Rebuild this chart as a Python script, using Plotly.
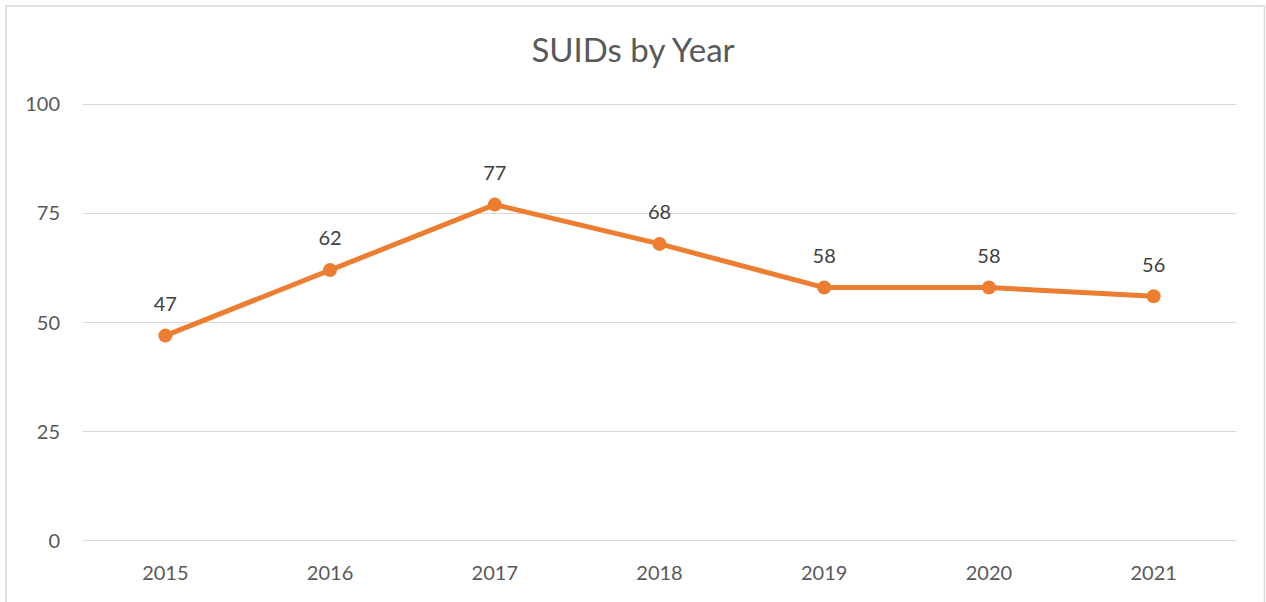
import plotly.graph_objects as go

years = ["2015", "2016", "2017", "2018", "2019", "2020", "2021"]
suids = [47, 62, 77, 68, 58, 58, 56]
y_ticks = [0, 25, 50, 75, 100]

W, H = 1266, 602
L, R, T, B = 83, 30, 102, 59
pw, ph = W - L - R, H - T - B
pad = 0.5  # keep end gridlines visible

fig = go.Figure()
fig.add_trace(go.Scatter(
    x=years, y=suids, mode="lines+markers",
    line=dict(color="#ED7D31", width=5),
    marker=dict(color="#ED7D31", size=14),
    hoverinfo="skip", showlegend=False,
))
fig.add_trace(go.Scatter(
    x=years, y=suids, mode="markers+text", text=[str(v) for v in suids],
    textposition="top center",
    textfont=dict(family="Lato", size=20, color="#404040"),
    marker=dict(size=30, opacity=0),
    hoverinfo="skip", showlegend=False,
))

fig.add_shape(type="rect", xref="paper", yref="paper",
              x0=(6 - L) / pw, x1=(W - 1.5 - L) / pw,
              y0=(B - H - 10) / ph, y1=(H - 6 - B) / ph,
              line=dict(color="#d9d9d9", width=1.5), fillcolor="rgba(0,0,0,0)", layer="below")

fig.update_layout(
    width=W, height=H,
    margin=dict(l=L, r=R, t=T, b=B, autoexpand=False),
    paper_bgcolor="white", plot_bgcolor="white",
    title=dict(text="SUIDs by Year", x=0.5, xanchor="center", xref="container",
               y=1 - 50 / H, yanchor="middle",
               font=dict(family="Lato", size=33, color="#595959")),
    font=dict(family="Lato", color="#595959"),
    xaxis=dict(type="category", range=[-0.5, 6.5], showgrid=False, zeroline=False,
               showline=False, ticks="", ticklabelstandoff=16,
               tickfont=dict(size=20, color="#595959"), fixedrange=True),
    yaxis=dict(range=[-pad, 100 + pad], tickvals=y_ticks, showgrid=True, gridcolor="#d9d9d9",
               gridwidth=1.3, zeroline=False, showline=False, ticks="",
               ticklabelstandoff=22, tickfont=dict(size=20, color="#595959"),
               fixedrange=True),
)
fig.write_html("out.html", config={"displayModeBar": False, "staticPlot": True},
               post_script="document.body.style.margin='0';document.body.style.overflow='hidden';")
